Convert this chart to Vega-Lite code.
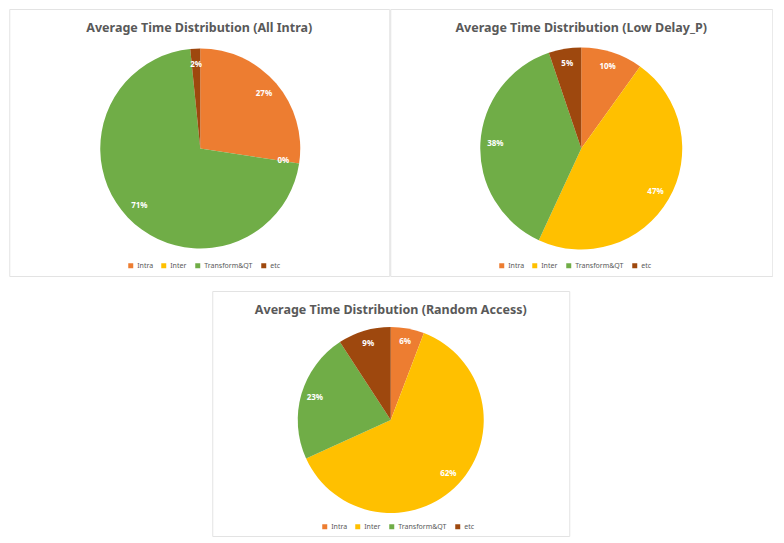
{
  "$schema": "https://vega.github.io/schema/vega-lite/v6.json",
  "padding": {"left": 8, "top": 8, "right": 0, "bottom": 0},
  "background": "white",
  "config": {
    "view": {"stroke": "#e3e3e3", "strokeWidth": 1},
    "title": {"font": "Noto Sans", "fontSize": 12.5, "fontWeight": "bold", "color": "#595959", "offset": -25, "anchor": "middle"},
    "legend": {"orient": "none", "direction": "horizontal", "title": null, "labelFont": "Noto Sans", "labelFontSize": 7, "labelColor": "#595959", "symbolType": "square", "symbolSize": 25, "symbolStrokeWidth": 0, "columnPadding": 7, "labelOffset": 3, "symbolOpacity": 1}
  },
  "datasets": {
    "ai": [
      {"cat": "Intra", "ord": 1, "share": 0.274},
      {"cat": "Inter", "ord": 2, "share": 0.0},
      {"cat": "Transform&QT", "ord": 3, "share": 0.710},
      {"cat": "etc", "ord": 4, "share": 0.016}
    ],
    "ld": [
      {"cat": "Intra", "ord": 1, "share": 0.099},
      {"cat": "Inter", "ord": 2, "share": 0.470},
      {"cat": "Transform&QT", "ord": 3, "share": 0.379},
      {"cat": "etc", "ord": 4, "share": 0.052}
    ],
    "ra": [
      {"cat": "Intra", "ord": 1, "share": 0.058},
      {"cat": "Inter", "ord": 2, "share": 0.624},
      {"cat": "Transform&QT", "ord": 3, "share": 0.226},
      {"cat": "etc", "ord": 4, "share": 0.092}
    ]
  },
  "vconcat": [
    {
      "hconcat": [
        {
          "width": 380, "height": 267,
          "view": {"stroke": "#e3e3e3"},
          "title": "Average Time Distribution (All Intra)",
          "data": {"name": "ai"},
          "encoding": {
            "theta": {"field": "share", "type": "quantitative", "stack": true},
            "order": {"field": "ord", "type": "quantitative"}
          },
          "layer": [
            {"mark": {"type": "arc", "radius": 100, "yOffset": 6, "xOffset": 1},
             "encoding": {"color": {"field": "cat", "type": "nominal", "sort": null,
               "scale": {"domain": ["Intra", "Inter", "Transform&QT", "etc"], "range": ["#ED7D31", "#FFC000", "#70AD47", "#9E480E"]},
               "legend": {"legendX": 118, "legendY": 253}}}},
            {"mark": {"type": "text", "radius": 84, "yOffset": 6, "xOffset": 1, "fill": "white", "font": "Noto Sans", "fontWeight": "bold", "fontSize": 8},
             "encoding": {"text": {"field": "share", "type": "quantitative", "format": ".0%"}}}
          ]
        },
        {
          "width": 382, "height": 267,
          "view": {"stroke": "#e3e3e3"},
          "title": "Average Time Distribution (Low Delay_P)",
          "data": {"name": "ld"},
          "encoding": {
            "theta": {"field": "share", "type": "quantitative", "stack": true},
            "order": {"field": "ord", "type": "quantitative"}
          },
          "layer": [
            {"mark": {"type": "arc", "radius": 101, "yOffset": 6},
             "encoding": {"color": {"field": "cat", "type": "nominal", "sort": null,
               "scale": {"domain": ["Intra", "Inter", "Transform&QT", "etc"], "range": ["#ED7D31", "#FFC000", "#70AD47", "#9E480E"]},
               "legend": {"legendX": 108, "legendY": 253}}}},
            {"mark": {"type": "text", "radius": 86, "yOffset": 6, "fill": "white", "font": "Noto Sans", "fontWeight": "bold", "fontSize": 8},
             "encoding": {"text": {"field": "share", "type": "quantitative", "format": ".0%"}}}
          ]
        }
      ],
      "spacing": -1,
      "resolve": {"scale": {"color": "independent"}}
    },
    {
      "width": 357, "height": 245,
      "view": {"stroke": "#e3e3e3"},
      "title": "Average Time Distribution (Random Access)",
      "data": {"name": "ra"},
      "encoding": {
        "theta": {"field": "share", "type": "quantitative", "stack": true},
        "order": {"field": "ord", "type": "quantitative"}
      },
      "layer": [
        {"mark": {"type": "arc", "radius": 93, "yOffset": 6.5},
         "encoding": {"color": {"field": "cat", "type": "nominal", "sort": null,
           "scale": {"domain": ["Intra", "Inter", "Transform&QT", "etc"], "range": ["#ED7D31", "#FFC000", "#70AD47", "#9E480E"]},
           "legend": {"legendX": 109, "legendY": 232}}}},
        {"mark": {"type": "text", "radius": 79, "yOffset": 6.5, "fill": "white", "font": "Noto Sans", "fontWeight": "bold", "fontSize": 8},
         "encoding": {"text": {"field": "share", "type": "quantitative", "format": ".0%"}}}
      ]
    }
  ],
  "spacing": 13,
  "center": true,
  "resolve": {"scale": {"color": "independent"}}
}
